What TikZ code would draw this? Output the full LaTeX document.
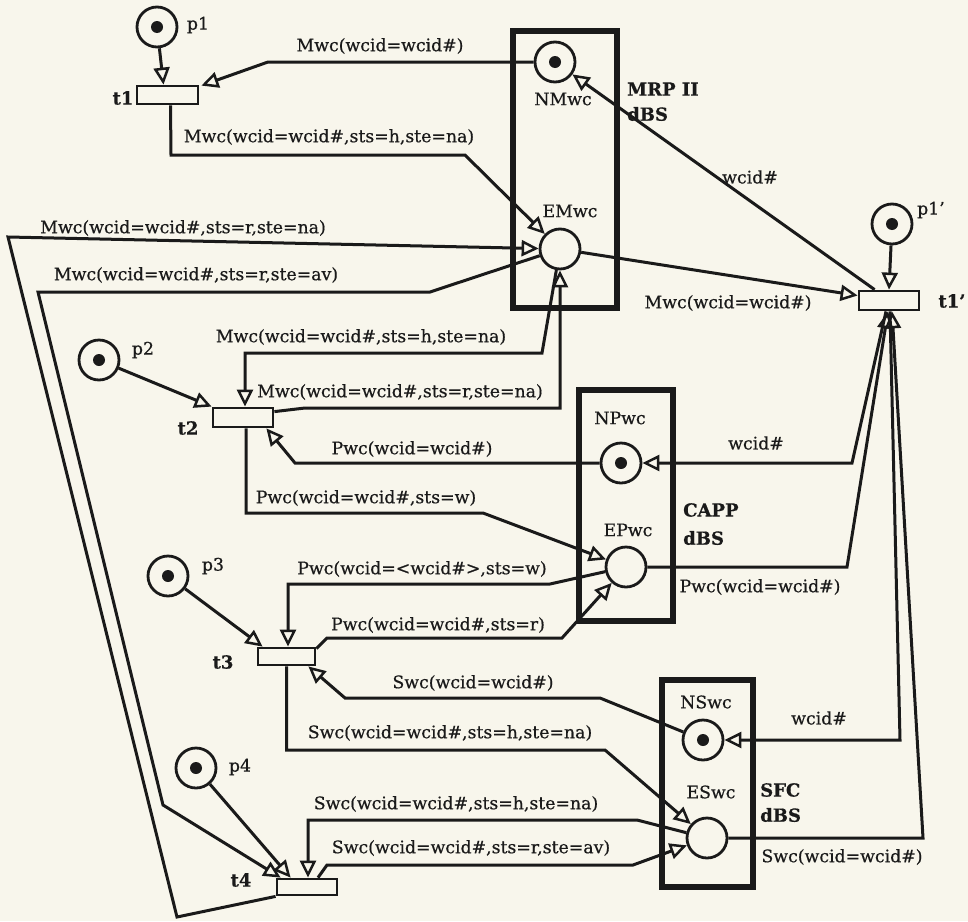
\documentclass[tikz,border=0pt]{standalone}
\usepackage{fontspec}
\setmainfont{DejaVu Serif}[FakeBold=0.6]
\usetikzlibrary{arrows.meta,calc}
\definecolor{ink}{HTML}{1A1A1A}
\definecolor{paper}{HTML}{F8F6EC}
\begin{document}
\begin{tikzpicture}[x=1pt,y=-1pt,
  font=\fontsize{17.3}{20}\selectfont,
  place/.style={circle, draw=ink, line width=2.8pt, minimum size=40pt, inner sep=0pt, fill=paper},
  token/.style={place, path picture={\fill[ink] (path picture bounding box.center) circle (6pt);}},
  trans/.style={rectangle, draw=ink, line width=2.8pt, minimum width=60pt, minimum height=18pt, inner sep=0pt, fill=paper},
  dbox/.style={rectangle, draw=ink, line width=5.5pt, inner sep=0pt},
  conn/.style={draw=ink, line width=3pt, line join=miter},
  arc/.style={conn, -{Triangle[open, length=17pt, width=16pt, line width=2.5pt]}},
  lbl/.style={inner sep=0pt, text=ink},
  blbl/.style={inner sep=0pt, text=ink, font=\fontsize{18}{20}\selectfont\bfseries},
]
\useasboundingbox (0,0) rectangle (968,921);
\fill[paper] (0,0) rectangle (968,921);

% database boxes
\node[dbox, minimum width=104pt, minimum height=277pt] (mrp) at (565,169.5) {};
\node[dbox, minimum width=94pt, minimum height=231pt] (capp) at (626,505.5) {};
\node[dbox, minimum width=91pt, minimum height=207pt] (sfc) at (707.5,783.5) {};

% places
\node[token] (p1) at (157,27) {};
\node[token] (NMwc) at (555,62) {};
\node[place] (EMwc) at (560,249) {};
\node[token] (p1p) at (892,224) {};
\node[token] (p2) at (99,360) {};
\node[token] (NPwc) at (621,463) {};
\node[place] (EPwc) at (626,567) {};
\node[token] (p3) at (168,576) {};
\node[token] (NSwc) at (703,740) {};
\node[place] (ESwc) at (707,838) {};
\node[token] (p4) at (196,768) {};

% transitions
\node[trans, minimum width=61pt] (t1) at (167.5,95) {};
\node[trans, minimum height=19pt] (t1p) at (889,300.5) {};
\node[trans, minimum height=19pt] (t2) at (243,417.5) {};
\node[trans, minimum width=57pt, minimum height=17pt] (t3) at (286.5,656.5) {};
\node[trans, minimum height=16pt] (t4) at (307,887) {};

% connectors
\draw[arc] (p1) -- ($(t1.north)+(-4,0)$);
\draw[arc] (NMwc) -- (268,62) -- ($(t1.north east)+(2,1)$);
\draw[arc] ($(t1.south)+(3,0)$) -- (171,155) -- (465,155) -- (EMwc);
\draw[arc] (t4.south west) -- (177,917) -- (8,237) -- (EMwc);
\draw[arc] (EMwc) -- (430,292) -- (38,292) -- (163,805) -- ($(t4.north west)+(5,0)$);
\draw[arc] (EMwc) -- ($(t1p.west)+(0,-5)$);
\draw[arc] ($(t1p.north west)+(17,0)$) -- (NMwc);
\draw[arc] (p1p) -- (t1p.north);
\draw[arc] ($(t2.north east)+(0,5)$) -- (305,408) -- (560,408) -- (EMwc);
\draw[arc] (EMwc) -- (542,353) -- (245,353) -- ($(t2.north)+(2,0)$);
\draw[arc] (p2) -- (t2.north west);
\draw[arc] (NPwc) -- (295,463) -- ($(t2.south east)+(-8,0)$);
\draw[arc] ($(t2.south)+(3,0)$) -- (246,513) -- (483,513) -- (EPwc);
\draw[arc] ($(t1p.south)+(-3,0)$) -- (852,463) -- (NPwc);
\draw[arc] (EPwc) -- (847,567) -- ($(t1p.south)+(-1,0)$);
\draw[arc] ($(t1p.south)+(1,0)$) -- (900,740) -- (NSwc);
\draw[arc] (ESwc) -- (923,838) -- ($(t1p.south)+(3,0)$);
\draw[arc] ($(t3.north east)+(0,2)$) -- (327,638) -- (562,638) -- (EPwc);
\draw[arc] (EPwc) -- (550,584) -- (288,584) -- ($(t3.north)+(1.5,0)$);
\draw[arc] (p3) -- ($(t3.north west)+(6,0)$);
\draw[arc] (NSwc) -- (600,698) -- (345,698) -- ($(t3.south east)+(-8,0)$);
\draw[arc] (t3.south) -- (286.5,750) -- (605,750) -- (ESwc);
\draw[arc] (ESwc) -- (637,820) -- (308,820) -- ($(t4.north)+(1,0)$);
\draw[arc] ($(t4.north)+(11,0)$) -- (327,865) -- (633,865) -- (ESwc);
\draw[arc] (p4) -- ($(t4.north west)+(15,0)$);

% node labels
\node[lbl] (lp1) at (198,25) {p1};
\node[lbl] (lp1p) at (931,210) {p1'};
\node[lbl] (lp2) at (143,350) {p2};
\node[lbl] (lp3) at (213,566) {p3};
\node[lbl] (lp4) at (240,767) {p4};
\node[blbl] (lt1) at (123,98) {t1};
\node[blbl] (lt1p) at (952,301) {t1'};
\node[blbl] (lt2) at (188,428) {t2};
\node[blbl] (lt3) at (223,662) {t3};
\node[blbl] (lt4) at (241,880) {t4};
\node[lbl] (lNMwc) at (563,99) {NMwc};
\node[lbl] (lEMwc) at (570,211) {EMwc};
\node[lbl] (lNPwc) at (620,418) {NPwc};
\node[lbl] (lEPwc) at (628,530) {EPwc};
\node[lbl] (lNSwc) at (706,702) {NSwc};
\node[lbl] (lESwc) at (711,792) {ESwc};
\node[blbl, anchor=west] (lmrp) at (627,89) {MRP II};
\node[blbl, anchor=west] (lmrpd) at (627,114) {dBS};
\node[blbl, anchor=west] (lcapp) at (683,510) {CAPP};
\node[blbl, anchor=west] (lcappd) at (683,538) {dBS};
\node[blbl, anchor=west] (lsfc) at (760,790) {SFC};
\node[blbl, anchor=west] (lsfcd) at (760,815) {dBS};

% arc labels
\node[lbl] (a1) at (380,46) {Mwc(wcid=wcid\#)};
\node[lbl] (a2) at (329,137) {Mwc(wcid=wcid\#,sts=h,ste=na)};
\node[lbl] (a3) at (183,228) {Mwc(wcid=wcid\#,sts=r,ste=na)};
\node[lbl] (a4) at (196,275) {Mwc(wcid=wcid\#,sts=r,ste=av)};
\node[lbl] (a5) at (750,177) {wcid\#};
\node[lbl] (a6) at (728,303) {Mwc(wcid=wcid\#)};
\node[lbl] (a7) at (361,337) {Mwc(wcid=wcid\#,sts=h,ste=na)};
\node[lbl] (a8) at (400,392) {Mwc(wcid=wcid\#,sts=r,ste=na)};
\node[lbl] (a9) at (412,449) {Pwc(wcid=wcid\#)};
\node[lbl] (a10) at (756,443) {wcid\#};
\node[lbl] (a11) at (366,498) {Pwc(wcid=wcid\#,sts=w)};
\node[lbl] (a12) at (422,569) {Pwc(wcid=<wcid\#>,sts=w)};
\node[lbl] (a13) at (438,625) {Pwc(wcid=wcid\#,sts=r)};
\node[lbl] (a14) at (760,587) {Pwc(wcid=wcid\#)};
\node[lbl] (a15) at (473,683) {Swc(wcid=wcid\#)};
\node[lbl] (a16) at (819,718) {wcid\#};
\node[lbl] (a17) at (450,733) {Swc(wcid=wcid\#,sts=h,ste=na)};
\node[lbl] (a18) at (456,804) {Swc(wcid=wcid\#,sts=h,ste=na)};
\node[lbl] (a19) at (471,848) {Swc(wcid=wcid\#,sts=r,ste=av)};
\node[lbl] (a20) at (842,857) {Swc(wcid=wcid\#)};
\end{tikzpicture}
\end{document}
